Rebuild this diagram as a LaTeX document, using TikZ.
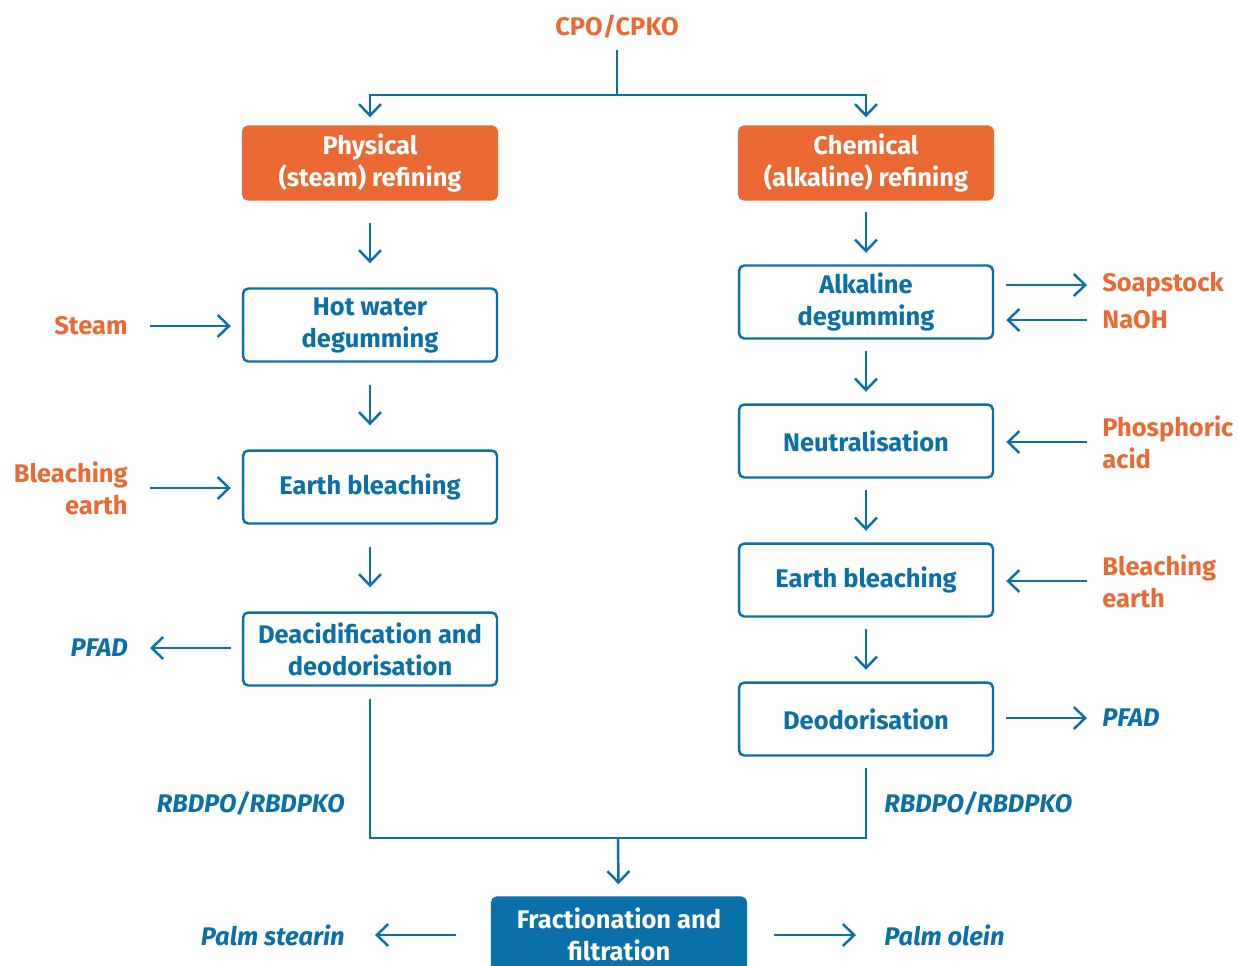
\documentclass[tikz,border=0pt]{standalone}
\usepackage{fontspec}
\setmainfont{Fira Sans}
\usetikzlibrary{arrows.meta,positioning}
\definecolor{palmorange}{HTML}{EB6A34}
\definecolor{palmblue}{HTML}{0B70A8}
\newcommand{\boxwd}{5.08cm}
\newcommand{\boxht}{1.46cm}
\newcommand{\lblfont}{\bfseries\fontsize{14.5}{18.2}\selectfont}
\tikzset{
    procsty/.style={draw=palmblue,line width=1.4pt,rounded corners=3pt,fill=white,text=palmblue,rectangle,minimum width=\boxwd,minimum height=\boxht,align=center,font=\lblfont},
    routesty/.style={procsty,draw=palmorange,fill=palmorange,text=white},
    fracsty/.style={procsty,fill=palmblue,text=white},
    insty/.style={text=palmorange,inner sep=0pt,font=\lblfont},
    outsty/.style={text=palmblue,inner sep=0pt,font=\lblfont\itshape},
    linesty/.style={draw=palmblue,line width=1.4pt},
    arrsty/.style={linesty,-{Straight Barb[length=6.5pt,width=12.5pt]}},
}

\begin{document}
\begin{tikzpicture}[x=0.02cm,y=-0.02cm]
\useasboundingbox (0,0) rectangle (1237,965);

% feedstock and the two routes
\node[insty] (cpo) at (617,27) {CPO/CPKO};
\node[routesty] (phys) at (370,163) {Physical\\(steam) refining};
\node[routesty] (chem) at (866,163) {Chemical\\(alkaline) refining};
\coordinate (split) at (617,95);
\draw[linesty, shorten <=0.22cm] (cpo) -- (split);
\draw[arrsty, shorten >=0.16cm] (split) -| (phys);
\draw[arrsty, shorten >=0.16cm] (split) -| (chem);

% physical refining
\node[procsty] (hot) at (370,325) {Hot water\\degumming};
\node[procsty] (ebl) at (370,487) {Earth bleaching};
\node[procsty] (deac) at (370,649) {Deacidification and\\deodorisation};
\foreach \a/\b in {phys/hot, hot/ebl, ebl/deac}
    \draw[arrsty, shorten <=0.44cm, shorten >=0.48cm] (\a) -- (\b);

\node[insty, anchor=east, align=right] (steam) at (128,326) {Steam};
\node[insty, anchor=east, align=right] (bearthl) at (128,488) {Bleaching\\earth};
\node[outsty, anchor=east] (pfadl) at (128,648) {PFAD};
\draw[arrsty, shorten <=0.44cm, shorten >=0.22cm] (steam) -- (steam -| hot.west);
\draw[arrsty, shorten <=0.44cm, shorten >=0.22cm] (bearthl) -- (bearthl -| ebl.west);
\draw[arrsty, shorten <=0.22cm, shorten >=0.44cm] (pfadl -| deac.west) -- (pfadl);

% chemical refining
\node[procsty] (alk) at (866,302) {Alkaline\\degumming};
\node[procsty] (neut) at (866,441) {Neutralisation};
\node[procsty] (ebr) at (866,580) {Earth bleaching};
\node[procsty] (deo) at (866,719) {Deodorisation};
\foreach \a/\b in {chem/alk, alk/neut, neut/ebr, ebr/deo}
    \draw[arrsty, shorten <=0.22cm, shorten >=0.23cm] (\a) -- (\b);

\node[insty, anchor=west, align=left] (soap) at (1102,285) {Soapstock};
\node[insty, anchor=west, align=left] (naoh) at (1102,320) {NaOH};
\node[insty, anchor=west, align=left] (phos) at (1102,442) {Phosphoric\\acid};
\node[insty, anchor=west, align=left] (bearthr) at (1102,581) {Bleaching\\earth};
\node[outsty, anchor=west] (pfadr) at (1102,718) {PFAD};
\draw[arrsty, shorten <=0.24cm, shorten >=0.3cm] (soap -| alk.east) -- (soap);
\draw[arrsty, shorten <=0.3cm, shorten >=0.24cm] (naoh) -- (naoh -| alk.east);
\draw[arrsty, shorten <=0.3cm, shorten >=0.24cm] (phos) -- (phos -| neut.east);
\draw[arrsty, shorten <=0.3cm, shorten >=0.24cm] (bearthr) -- (bearthr -| ebr.east);
\draw[arrsty, shorten <=0.24cm, shorten >=0.3cm] (pfadr -| deo.east) -- (pfadr);

% refined oil to fractionation
\node[fracsty] (frac) at (619,934) {Fractionation and\\filtration};
\coordinate (merge) at (618,838);
\draw[linesty, shorten <=0.24cm, shorten >=0.22cm] (deac) |- (merge) -| (deo);
\draw[arrsty, shorten >=0.24cm] (merge) -- (frac);
\node[outsty, anchor=east] (rbdl) at (345,803) {RBDPO/RBDPKO};
\node[outsty, anchor=west] (rbdr) at (884,803) {RBDPO/RBDPKO};

\node[outsty, anchor=east] (stearin) at (345,935) {Palm stearin};
\node[outsty, anchor=west] (olein) at (884,935) {Palm olein};
\draw[arrsty, shorten <=0.7cm, shorten >=0.6cm] (stearin -| frac.west) -- (stearin);
\draw[arrsty, shorten <=0.54cm, shorten >=0.56cm] (olein -| frac.east) -- (olein);
\end{tikzpicture}
\end{document}
